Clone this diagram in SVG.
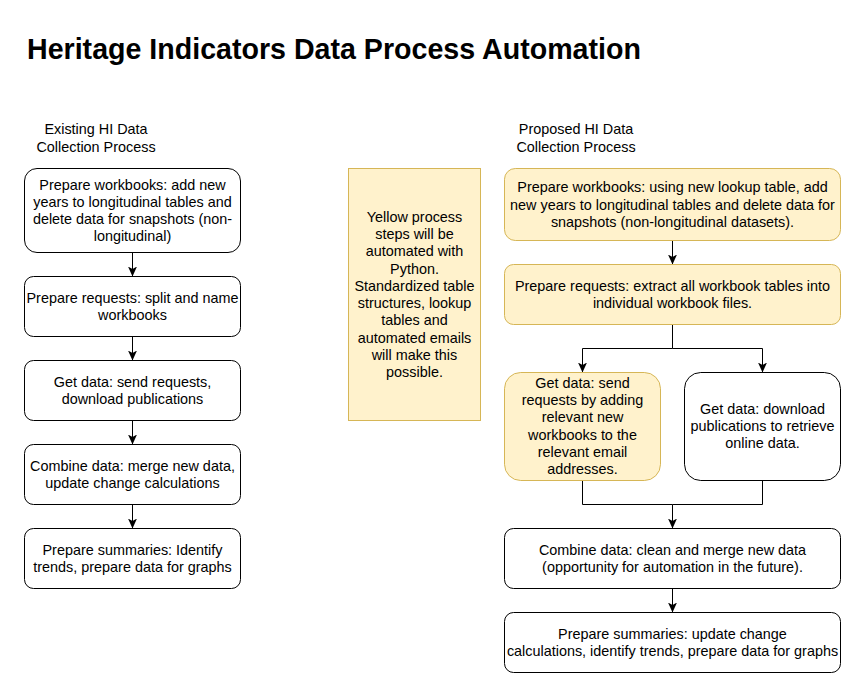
<svg xmlns="http://www.w3.org/2000/svg" width="866" height="698" viewBox="0 0 866 698">
<defs>
<style>
.box{fill:#ffffff;stroke:#000000;stroke-width:1}
.yel{fill:#fff2cc;stroke:#d6b656;stroke-width:1}
.t{font-family:"Liberation Sans",Arial,sans-serif;font-size:14.4px;fill:#000000;text-anchor:middle}
.title{font-family:"Liberation Sans",Arial,sans-serif;font-size:28.6px;font-weight:bold;fill:#000000}
.c{fill:none;stroke:#000000;stroke-width:1}
.a{marker-end:url(#arr)}
</style>
<marker id="arr" viewBox="0 0 10 9" refX="10" refY="4.5" markerWidth="10" markerHeight="9" markerUnits="userSpaceOnUse" orient="auto">
<path d="M0,0 L10,4.5 L0,9 L2.5,4.5 Z" fill="#000000"/>
</marker>
</defs>
<rect width="866" height="698" fill="#ffffff"/>
<text class="title" x="27" y="58.5">Heritage Indicators Data Process Automation</text>

<g id="label-existing">
<text class="t" x="96" y="134">Existing HI Data</text>
<text class="t" x="96" y="151.5">Collection Process</text>
</g>
<g id="label-proposed">
<text class="t" x="576" y="134">Proposed HI Data</text>
<text class="t" x="576" y="151.5">Collection Process</text>
</g>

<g id="connectors">
<path class="c a" d="M132.5,252.5 V276.5"/>
<path class="c a" d="M132.5,336.5 V360.5"/>
<path class="c a" d="M132.5,420.5 V444.5"/>
<path class="c a" d="M132.5,504.5 V528.5"/>
<path class="c a" d="M672.5,240.5 V264.5"/>
<path class="c a" d="M672.5,324.5 V348.5 H582.5 V372.5"/>
<path class="c a" d="M672.5,348.5 H762.5 V372.5"/>
<path class="c a" d="M582.5,480.5 V504.5 H672.5 V528.5"/>
<path class="c" d="M762.5,480.5 V504.5 H672.5"/>
<path class="c a" d="M672.5,588.5 V612.5"/>
</g>

<g id="ex1">
<rect class="box" x="24.5" y="168.5" width="216" height="84" rx="12.5"/>
<text class="t" x="132.5" y="189.6">Prepare workbooks: add new</text>
<text class="t" x="132.5" y="206.9">years to longitudinal tables and</text>
<text class="t" x="132.5" y="224.2">delete data for snapshots (non-</text>
<text class="t" x="132.5" y="241.4">longitudinal)</text>
</g>
<g id="ex2">
<rect class="box" x="24.5" y="276.5" width="216" height="60" rx="9"/>
<text class="t" x="132.5" y="302.9">Prepare requests: split and name</text>
<text class="t" x="132.5" y="320.1">workbooks</text>
</g>
<g id="ex3">
<rect class="box" x="24.5" y="360.5" width="216" height="60" rx="9"/>
<text class="t" x="132.5" y="386.9">Get data: send requests,</text>
<text class="t" x="132.5" y="404.1">download publications</text>
</g>
<g id="ex4">
<rect class="box" x="24.5" y="444.5" width="216" height="60" rx="9"/>
<text class="t" x="132.5" y="470.9">Combine data: merge new data,</text>
<text class="t" x="132.5" y="488.1">update change calculations</text>
</g>
<g id="ex5">
<rect class="box" x="24.5" y="528.5" width="216" height="60" rx="9"/>
<text class="t" x="132.5" y="554.9">Prepare summaries: Identify</text>
<text class="t" x="132.5" y="572.1">trends, prepare data for graphs</text>
</g>

<g id="note">
<rect class="yel" x="348.5" y="168.5" width="132" height="252"/>
<text class="t" x="414.5" y="221.7">Yellow process</text>
<text class="t" x="414.5" y="239">steps will be</text>
<text class="t" x="414.5" y="256.3">automated with</text>
<text class="t" x="414.5" y="273.5">Python.</text>
<text class="t" x="414.5" y="290.8">Standardized table</text>
<text class="t" x="414.5" y="308.1">structures, lookup</text>
<text class="t" x="414.5" y="325.4">tables and</text>
<text class="t" x="414.5" y="342.7">automated emails</text>
<text class="t" x="414.5" y="360">will make this</text>
<text class="t" x="414.5" y="377.2">possible.</text>
</g>

<g id="pr1">
<rect class="yel" x="504.5" y="168.5" width="336" height="72" rx="10.8"/>
<text class="t" x="672.5" y="192.2">Prepare workbooks: using new lookup table, add</text>
<text class="t" x="672.5" y="209.5">new years to longitudinal tables and delete data for</text>
<text class="t" x="672.5" y="226.8">snapshots (non-longitudinal datasets).</text>
</g>
<g id="pr2">
<rect class="yel" x="504.5" y="264.5" width="336" height="60" rx="9"/>
<text class="t" x="672.5" y="290.9">Prepare requests: extract all workbook tables into</text>
<text class="t" x="672.5" y="308.1">individual workbook files.</text>
</g>
<g id="pr3a">
<rect class="yel" x="504.5" y="372.5" width="156" height="108" rx="16.2"/>
<text class="t" x="582.5" y="387.8">Get data: send</text>
<text class="t" x="582.5" y="405.1">requests by adding</text>
<text class="t" x="582.5" y="422.4">relevant new</text>
<text class="t" x="582.5" y="439.6">workbooks to the</text>
<text class="t" x="582.5" y="456.9">relevant email</text>
<text class="t" x="582.5" y="474.2">addresses.</text>
</g>
<g id="pr3b">
<rect class="box" x="684.5" y="372.5" width="156" height="108" rx="16.2"/>
<text class="t" x="762.5" y="413.7">Get data: download</text>
<text class="t" x="762.5" y="431">publications to retrieve</text>
<text class="t" x="762.5" y="448.3">online data.</text>
</g>
<g id="pr4">
<rect class="box" x="504.5" y="528.5" width="336" height="60" rx="9"/>
<text class="t" x="672.5" y="554.9">Combine data: clean and merge new data</text>
<text class="t" x="672.5" y="572.1">(opportunity for automation in the future).</text>
</g>
<g id="pr5">
<rect class="box" x="504.5" y="612.5" width="336" height="60" rx="9"/>
<text class="t" x="672.5" y="638.9">Prepare summaries: update change</text>
<text class="t" x="672.5" y="656.1">calculations, identify trends, prepare data for graphs</text>
</g>
</svg>
